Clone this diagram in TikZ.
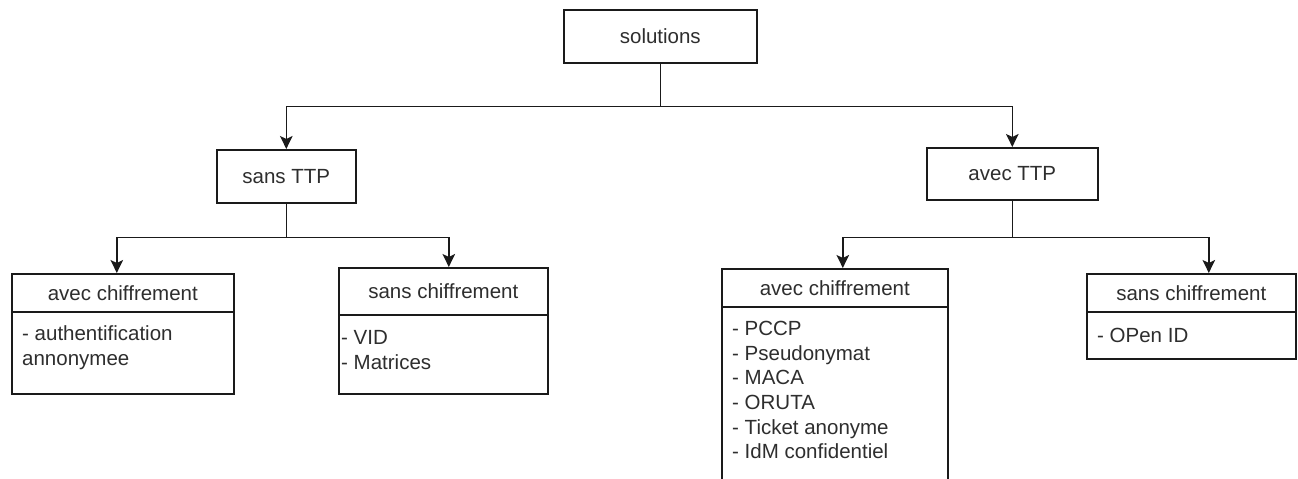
\documentclass[tikz,border=0pt]{standalone}
\usepackage{fontspec}
\setmainfont{Liberation Sans}
\usetikzlibrary{arrows.meta}
\definecolor{ink}{HTML}{1A1A1A}
\definecolor{label}{HTML}{2E2E2E}
\begin{document}
\begin{tikzpicture}[x=1pt,y=-1pt,
  box/.style={draw=ink,line width=1.6pt,rectangle,inner sep=0pt,anchor=north west,
    text=label,font=\fontsize{20.5}{24.6}\selectfont},
  list/.style={anchor=north west,inner sep=0pt,align=left,text=label,
    font=\fontsize{20.5}{24.6}\selectfont},
  link/.style={draw=ink,line width=1.6pt,-{Stealth[length=13pt,width=12.5pt,inset=3pt]}}]
\clip (0,0) rectangle (1298,479);
\fill[white] (0,0) rectangle (1298,479);

% root and first level
\node[box,minimum width=193pt,minimum height=53pt] (sol) at (563,9) {solutions};
\node[box,minimum width=139pt,minimum height=53pt] (sTTP) at (216,149) {sans TTP};
\node[box,minimum width=171pt,minimum height=52pt] (aTTP) at (926,147) {avec TTP};

% sans TTP: avec chiffrement
\node[box,minimum width=222pt,minimum height=38pt] (sac) at (11,273) {avec chiffrement};
\node[box,minimum width=222pt,minimum height=82pt] (sacb) at (11,311) {};
\node[list] (sacl) at (22,323.3) {\strut- authentification\\annonymee};

% sans TTP: sans chiffrement
\node[box,minimum width=209pt,minimum height=47pt] (sas) at (338,267) {sans chiffrement};
\node[box,minimum width=209pt,minimum height=79pt] (sasb) at (338,314) {};
\node[list] (sasl) at (341,327.3) {\strut- VID\\- Matrices};

% avec TTP: avec chiffrement
\node[box,minimum width=226pt,minimum height=38pt] (aac) at (721,268) {avec chiffrement};
\node[box,minimum width=226pt,minimum height=200pt] (aacb) at (721,306) {};
\node[list] (aacl) at (732,318.3) {\strut- PCCP\\- Pseudonymat\\- MACA\\- ORUTA\\- Ticket anonyme\\- IdM confidentiel};

% avec TTP: sans chiffrement
\node[box,minimum width=209pt,minimum height=38pt] (aas) at (1086,273) {sans chiffrement};
\node[box,minimum width=209pt,minimum height=47pt] (aasb) at (1086,311) {};
\node[list] (aasl) at (1097,325.3) {\strut- OPen ID};

% connectors
\draw[link] (sol.south) -- ++(0,43) -| (sTTP.north);
\draw[link] (sol.south) -- ++(0,43) -| (aTTP.north);
\draw[link] (sTTP.south) -- ++(0,34) -| ([xshift=-6pt]sac.north);
\draw[link] (sTTP.south) -- ++(0,34) -| ([xshift=5.5pt]sas.north);
\draw[link] (aTTP.south) -- ++(0,37) -| ([xshift=8pt]aac.north);
\draw[link] (aTTP.south) -- ++(0,37) -| ([xshift=17.5pt]aas.north);
\end{tikzpicture}
\end{document}
